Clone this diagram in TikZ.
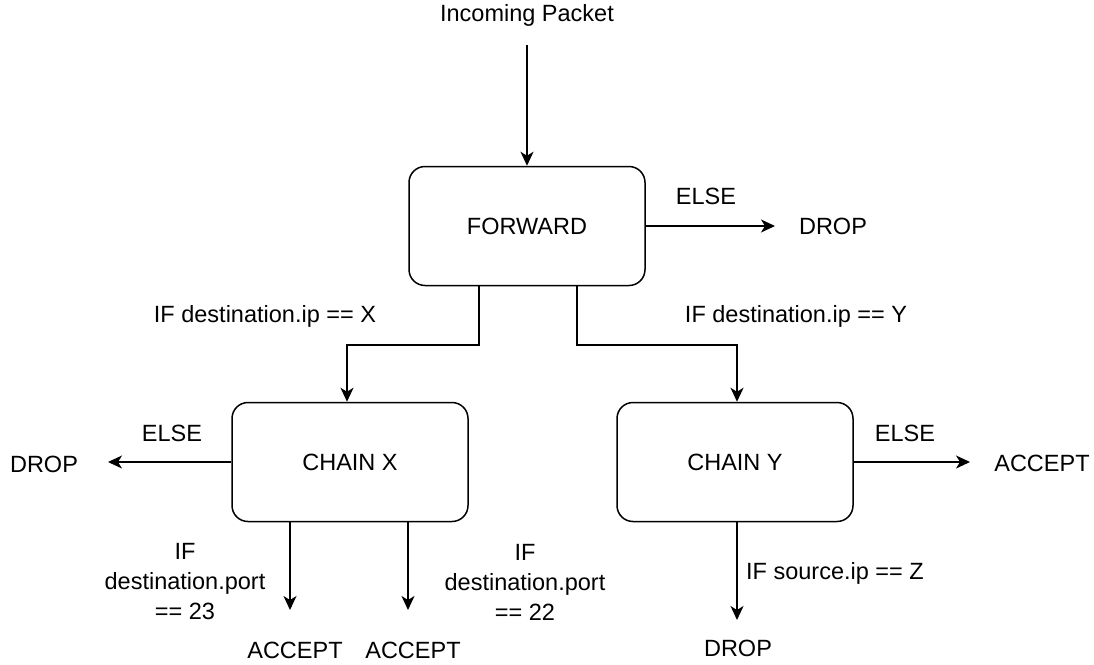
\documentclass[tikz,border=0pt]{standalone}
\usepackage{fontspec}
\setmainfont{Liberation Sans}
\usetikzlibrary{arrows.meta}

\begin{document}
\begin{tikzpicture}[x=1pt,y=-1pt,font=\fontsize{23.5}{30}\selectfont,
  chain/.style={draw,line width=1.5pt,rounded corners=16pt,minimum width=236pt,minimum height=119pt},
  flow/.style={line width=1.5pt,-{Stealth[length=14pt,width=13pt,inset=4pt]}},
  lbl/.style={align=center,inner sep=0pt}]
  \useasboundingbox (0,0) rectangle (1094,664);

  \node[lbl] (pkt) at (527,15) {Incoming Packet};
  \coordinate (pktend) at (527,45);
  \node[chain] (fwd) at (527,226) {FORWARD};
  \node[chain] (chx) at (350,462) {CHAIN X};
  \node[chain] (chy) at (735,462) {CHAIN Y};

  \node[lbl] (fdrop) at (833,226) {DROP};
  \node[lbl] (xdrop) at (44,464) {DROP};
  \node[lbl] (xacc1) at (295,650) {ACCEPT};
  \node[lbl] (xacc2) at (413,650) {ACCEPT};
  \node[lbl] (yacc) at (1042,463) {ACCEPT};
  \node[lbl] (ydrop) at (738,648) {DROP};

  \node[lbl] (felse) at (706,196) {ELSE};
  \node[lbl] (xelse) at (172,433) {ELSE};
  \node[lbl] (yelse) at (905,433) {ELSE};
  \node[lbl] (ifx) at (265,316) {IF destination.ip == X};
  \node[lbl] (ify) at (796,316) {IF destination.ip == Y};
  \node[lbl] (if23) at (185,582) {IF\\destination.port\\== 23};
  \node[lbl] (if22) at (525,582) {IF\\destination.port\\== 22};
  \node[lbl] (ifz) at (835,573) {IF source.ip == Z};

  \draw[flow] (pktend) -- (fwd.north);
  \draw[flow] (fwd.east) -- (775,226);
  \draw[flow] (fwd.south -| 479,0) |- (347,345) -- (chx.north -| 347,0);
  \draw[flow] (fwd.south -| 577,0) |- (737,345) -- (chy.north -| 737,0);
  \draw[flow] (chx.west) -- (108,462);
  \draw[flow] (chx.south -| 290,0) -- (290,610);
  \draw[flow] (chx.south -| 408,0) -- (408,610);
  \draw[flow] (chy.east) -- (970,462);
  \draw[flow] (chy.south -| 737,0) -- (737,620);
\end{tikzpicture}
\end{document}
